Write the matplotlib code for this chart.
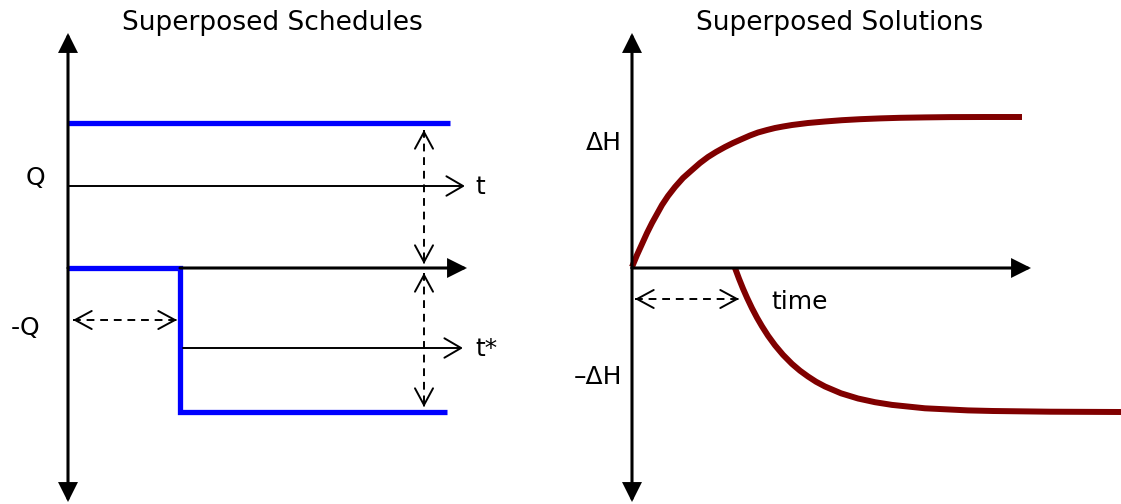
import matplotlib
matplotlib.use("Agg")
import matplotlib.pyplot as plt

# ====================================================================
# Superposition sketch: two rate schedules (left) and the drawdown
# responses they produce (right). Coordinates are in picture pixels
# (x to the right, y downwards) since this is a schematic, not data.
# ====================================================================

# --- left panel: schedules ---
sched_on_x = [68, 450]            # +Q from t = 0
sched_on_y = [123, 123]
sched_off_x = [68, 180, 180, 447]  # 0 until t*, then -Q
sched_off_y = [268, 268, 412, 412]

# --- right panel: superposed solutions ---
sol_up_x = [632, 637, 642, 647, 652, 657, 662, 668, 675, 683, 692, 700, 708,
            716, 725, 733, 742, 750, 758, 767, 775, 783, 792, 808, 825, 842,
            860, 880, 900, 925, 950, 985, 1022]
sol_up_y = [267, 255, 244, 233, 223, 214, 205, 196, 187, 178, 170, 163, 157,
            152, 147, 143, 139, 135.5, 132.5, 130, 128, 126.5, 125, 123, 121.5,
            120.2, 119.2, 118.4, 117.8, 117.4, 117.1, 117, 117]
sol_dn_x = [735, 739, 743, 747, 752, 757, 762, 768, 775, 783, 792, 800, 808,
            816, 825, 841, 858, 875, 892, 925, 968, 993, 1050, 1121]
sol_dn_y = [268, 278.7, 288.6, 297.7, 308.2, 317.7, 326.3, 335.7, 345.3, 354.8,
            363.9, 370.7, 376.5, 381.7, 386.5, 393.3, 398.5, 402.2, 404.9,
            408.3, 410.4, 411, 411.7, 412]

BLUE = "#0000ff"
DARK_RED = "#800000"

fig = plt.figure(figsize=(11.21, 5.04), dpi=100)
ax = fig.add_axes([0, 0, 1, 1])
ax.set_xlim(0, 1121)
ax.set_ylim(504, 0)
ax.axis("off")


def arrow(x0, y0, x1, y1, style="-|>", lw=2.2, hl=10.8, hw=5.4):
    """Solid arrow from (x0, y0) to the tip (x1, y1); head sizes in points."""
    ax.annotate("", xy=(x1, y1), xytext=(x0, y0),
                arrowprops=dict(arrowstyle=f"{style},head_length={hl},head_width={hw}",
                                lw=lw, color="black", shrinkA=0, shrinkB=0,
                                mutation_scale=1, joinstyle="miter"))


def dashed_arrow(x0, y0, x1, y1):
    """Dashed line with an open head at both ends."""
    ax.plot([x0, x1], [y0, y1], color="black", lw=1.4, dashes=(4, 3))
    dx = (x1 - x0) / max(abs(x1 - x0), abs(y1 - y0))
    dy = (y1 - y0) / max(abs(x1 - x0), abs(y1 - y0))
    arrow(x1 - dx, y1 - dy, x1, y1, style="->", lw=1.4, hl=12, hw=6.5)
    arrow(x0 + dx, y0 + dy, x0, y0, style="->", lw=1.4, hl=12, hw=6.5)


# ---------------- left: Superposed Schedules ----------------
ax.text(272, 23, "Superposed Schedules", fontsize=19, ha="center", va="center")
arrow(68, 268, 68, 33)
arrow(68, 268, 68, 502)

ax.plot(sched_on_x, sched_on_y, color=BLUE, lw=3.8, solid_capstyle="butt")
arrow(68, 186, 465, 186, style="->", lw=1.4, hl=12, hw=7)
ax.text(475, 187, "t", fontsize=18, ha="left", va="center")
ax.text(35, 178, "Q", fontsize=18, ha="center", va="center")

arrow(180, 268, 467, 268)
ax.plot(sched_off_x, sched_off_y, color=BLUE, lw=3.8,
        solid_capstyle="butt", solid_joinstyle="miter")
arrow(183, 348, 463, 348, style="->", lw=1.4, hl=12, hw=7)
ax.text(475, 349, "t*", fontsize=18, ha="left", va="center")
ax.text(26, 328, "-Q", fontsize=18, ha="center", va="center")

dashed_arrow(424, 130, 424, 264)
dashed_arrow(424, 273, 424, 407)
dashed_arrow(73, 320, 177, 320)

# ---------------- right: Superposed Solutions ----------------
ax.text(840, 23, "Superposed Solutions", fontsize=19, ha="center", va="center")
arrow(632, 268, 632, 33)
arrow(632, 268, 632, 502)
arrow(632, 268, 1031, 268)

ax.plot(sol_up_x, sol_up_y, color=DARK_RED, lw=4.3,
        solid_capstyle="butt", solid_joinstyle="round")
ax.plot(sol_dn_x, sol_dn_y, color=DARK_RED, lw=4.3,
        solid_capstyle="butt", solid_joinstyle="round")

ax.text(622, 143, "ΔH", fontsize=18, ha="right", va="center")
ax.text(622, 377, "\u2013ΔH", fontsize=18, ha="right", va="center")
ax.text(771, 302, "time", fontsize=18, ha="left", va="center")
dashed_arrow(635, 299, 739, 299)

fig.savefig("out.png", dpi=100)
